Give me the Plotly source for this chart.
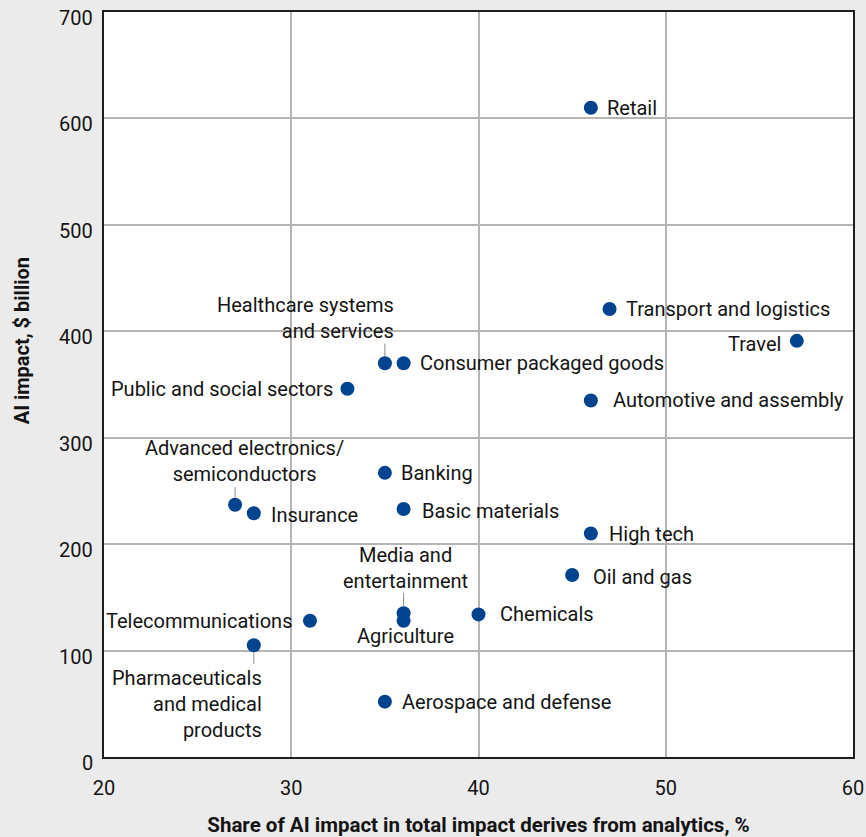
import plotly.graph_objects as go

# ---- data ----
industries = [
    "Retail", "Transport and logistics", "Travel", "Healthcare systems and services",
    "Consumer packaged goods", "Public and social sectors", "Automotive and assembly",
    "Banking", "Advanced electronics/semiconductors", "Insurance", "Basic materials",
    "High tech", "Oil and gas", "Media and entertainment", "Agriculture", "Chemicals",
    "Telecommunications", "Pharmaceuticals and medical products", "Aerospace and defense",
]
share_analytics = [46, 47, 57, 35, 36, 33, 46, 35, 27, 28, 36, 46, 45, 36, 36, 40, 31, 28, 35]
ai_impact = [610, 421, 391, 370, 370, 346, 335, 267, 237, 229, 233, 210, 171, 135, 128, 134, 128, 105, 52]
labels = [
    "Retail", "Transport and logistics", "Travel", "Healthcare systems<br>and services",
    "Consumer packaged goods", "Public and social sectors", "Automotive and assembly",
    "Banking", "Advanced electronics/<br>semiconductors", "Insurance", "Basic materials",
    "High tech", "Oil and gas", "Media and<br>entertainment", "Agriculture", "Chemicals",
    "Telecommunications", "Pharmaceuticals<br>and medical<br>products", "Aerospace and defense",
]
x_ticks = [20, 30, 40, 50, 60]
y_ticks = [0, 100, 200, 300, 400, 500, 600, 700]
x_title = "Share of AI impact in total impact derives from analytics, %"
y_title = "AI impact, $ billion"

# ---- label styling: (xanchor, yanchor, align, xshift, yshift) ----
label_style = {
    "Retail": ("left", "middle", "left", 14, 0),
    "Transport and logistics": ("left", "middle", "left", 14, 0),
    "Travel": ("right", "middle", "right", -14, -3),
    "Healthcare systems and services": ("right", "bottom", "right", 11, 18),
    "Consumer packaged goods": ("left", "middle", "left", 14, 0),
    "Public and social sectors": ("right", "middle", "right", -12, 0),
    "Automotive and assembly": ("left", "middle", "left", 20, 0),
    "Banking": ("left", "middle", "left", 14, 0),
    "Advanced electronics/semiconductors": ("center", "bottom", "center", 9, 17),
    "Insurance": ("left", "middle", "left", 15, -2),
    "Basic materials": ("left", "middle", "left", 16, -2),
    "High tech": ("left", "middle", "left", 16, 0),
    "Oil and gas": ("left", "middle", "left", 19, -2),
    "Media and entertainment": ("center", "bottom", "center", 2, 18),
    "Agriculture": ("center", "top", "center", 2, -1),
    "Chemicals": ("left", "middle", "left", 19, 0),
    "Telecommunications": ("right", "middle", "right", -16, 0),
    "Pharmaceuticals and medical products": ("right", "top", "right", 10, -19),
    "Aerospace and defense": ("left", "middle", "left", 15, 0),
}
# leader lines: industry -> vertical pixel offset of line end (negative = up)
leaders = {
    "Healthcare systems and services": -21,
    "Advanced electronics/semiconductors": -19,
    "Media and entertainment": -22,
    "Pharmaceuticals and medical products": 20,
}

FONT = "Roboto"
MARKER = "#00438f"
TXT = "#141414"

fig = go.Figure()
fig.add_trace(go.Scatter(
    x=share_analytics, y=ai_impact, mode="markers",
    marker=dict(size=14, color=MARKER, line=dict(width=0)),
    hovertext=industries, hoverinfo="text", showlegend=False,
))

annotations = []
for name, lab, xv, yv in zip(industries, labels, share_analytics, ai_impact):
    xa, ya, al, xs, ys = label_style[name]
    annotations.append(dict(
        x=xv, y=yv, xref="x", yref="y", text=lab, showarrow=False,
        xanchor=xa, yanchor=ya, align=al, xshift=xs, yshift=ys,
        font=dict(family=FONT, size=20, color=TXT),
    ))
    if name in leaders:
        annotations.append(dict(
            x=xv, y=yv, xref="x", yref="y", text="", showarrow=True,
            arrowhead=0, arrowwidth=1, arrowcolor="#8a8a8a",
            ax=0, ay=leaders[name], standoff=7,
        ))

# y tick labels sit slightly below their gridlines in the reference
for v in y_ticks:
    annotations.append(dict(
        x=0, y=v, xref="paper", yref="y", text=str(v), showarrow=False,
        xanchor="right", yanchor="middle", xshift=-9, yshift=-6,
        font=dict(family=FONT, size=20, color=TXT),
    ))

# y axis title, placed a little above the plot's middle as in the reference
annotations.append(dict(
    x=0, y=0.558, xref="paper", yref="paper", text=f"<b>{y_title}</b>",
    showarrow=False, textangle=-90, xanchor="center", yanchor="middle",
    xshift=-82, font=dict(family=FONT, size=20, color=TXT),
))

fig.update_layout(
    width=866, height=837,
    margin=dict(l=104, r=13, t=12, b=80, autoexpand=False),
    paper_bgcolor="#ebebeb", plot_bgcolor="#ffffff",
    font=dict(family=FONT, size=20, color=TXT),
    annotations=annotations,
    showlegend=False,
)
fig.update_xaxes(
    range=[20, 60], tickvals=x_ticks, ticktext=[str(v) for v in x_ticks],
    showgrid=True, gridcolor="#b5b5b5", gridwidth=1.5,
    showline=True, linecolor="#1e1e1e", linewidth=2, mirror=True,
    ticks="", ticklabelstandoff=12, zeroline=False, automargin=False,
    tickfont=dict(family=FONT, size=20, color=TXT),
    title=dict(text=f"<b>{x_title}</b>",
               font=dict(family=FONT, size=20.5, color=TXT), standoff=26),
)
fig.update_yaxes(
    range=[0, 700], tickvals=y_ticks, showticklabels=False,
    showgrid=True, gridcolor="#b5b5b5", gridwidth=1.5,
    showline=True, linecolor="#1e1e1e", linewidth=2, mirror=True,
    ticks="", zeroline=False, automargin=False,
)

fig.write_html(
    "out.html",
    config={"displayModeBar": False},
    post_script="document.body.style.margin='0';document.body.style.overflow='hidden';",
)
